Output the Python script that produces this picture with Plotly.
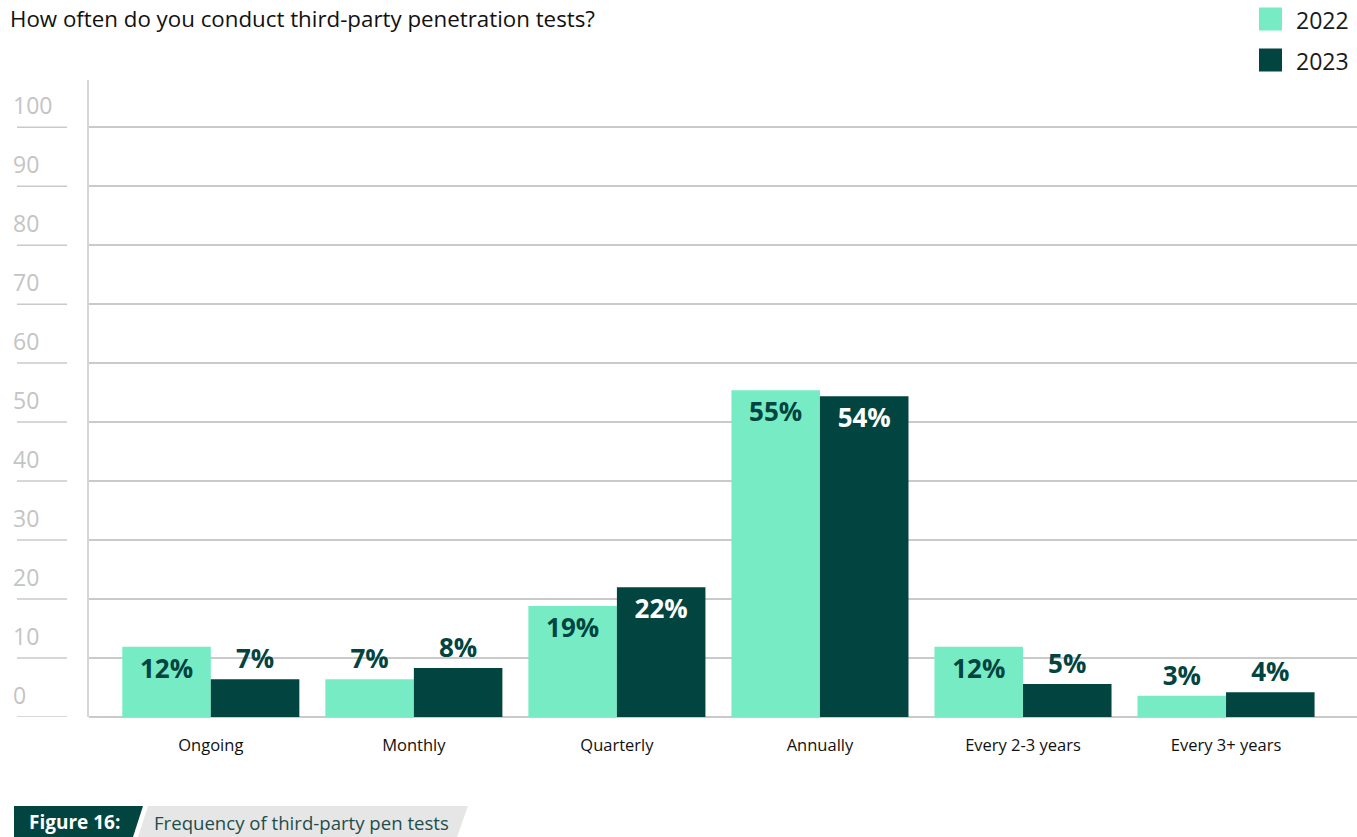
import plotly.graph_objects as go

# ---------------- data ----------------
categories = ["Ongoing", "Monthly", "Quarterly", "Annually", "Every 2-3 years", "Every 3+ years"]
values_2022 = [11.9, 6.4, 18.8, 55.4, 11.9, 3.6]
values_2023 = [6.4, 8.3, 22.0, 54.4, 5.6, 4.2]
labels_2022 = ["12%", "7%", "19%", "55%", "12%", "3%"]
labels_2023 = ["7%", "8%", "22%", "54%", "5%", "4%"]
series_names = ["2022", "2023"]
y_ticks = [0, 10, 20, 30, 40, 50, 60, 70, 80, 90, 100]

title_text = "How often do you conduct third-party penetration tests?"
fig_label = "Figure 16:"
fig_caption = "Frequency of third-party pen tests"

# ---------------- style ----------------
LIGHT = "#77ECC4"
DARK = "#02443F"
GRID = "#CACACA"
TICKGRAY = "#C4C4C4"
FONT = "Open Sans"

W, H = 1357, 837
ML, MR, MT, MB = 89, 0, 80, 120
PW, PH = W - ML - MR, H - MT - MB


def px(x):
    return (x - ML) / PW


def py(y):
    return (H - MB - y) / PH


INSIDE_MIN = 10


def positions(vals):
    return ["inside" if v >= INSIDE_MIN else "outside" for v in vals]


fig = go.Figure()
fig.add_trace(go.Bar(
    x=categories, y=values_2022, name=series_names[0],
    marker=dict(color=LIGHT, line=dict(width=0)),
    text=labels_2022, textposition=positions(values_2022),
    insidetextanchor="end",
    textfont=dict(family=FONT, size=26, color=DARK, weight="bold"),
    cliponaxis=False, showlegend=False, hoverinfo="skip",
))
fig.add_trace(go.Bar(
    x=categories, y=values_2023, name=series_names[1],
    marker=dict(color=DARK, line=dict(width=0)),
    text=labels_2023, textposition=positions(values_2023),
    insidetextanchor="end",
    textfont=dict(family=FONT, size=26, weight="bold",
                  color=["#FFFFFF" if v >= INSIDE_MIN else DARK for v in values_2023]),
    cliponaxis=False, showlegend=False, hoverinfo="skip",
))

shapes = []
annotations = []

# y tick labels above short tick lines
for v in y_ticks:
    annotations.append(dict(
        xref="paper", yref="y", x=px(11), y=v, xanchor="left", yanchor="middle",
        yshift=22, text=str(v), showarrow=False,
        font=dict(family=FONT, size=23, color=TICKGRAY),
    ))
    shapes.append(dict(
        type="line", xref="paper", yref="y", x0=px(17), x1=px(67), y0=v, y1=v,
        line=dict(color=GRID, width=1.5), layer="below",
    ))

# title
annotations.append(dict(
    xref="paper", yref="paper", x=px(8), y=py(18), xanchor="left", yanchor="middle",
    text=title_text, showarrow=False, font=dict(family=FONT, size=22.3, color="#111111"),
))

# custom legend
for i, (name, col) in enumerate(zip(series_names, [LIGHT, DARK])):
    yc = 19 + i * 41
    shapes.append(dict(
        type="rect", xref="paper", yref="paper",
        x0=px(1259), x1=px(1282), y0=py(yc - 11.5), y1=py(yc + 11.5),
        fillcolor=col, line=dict(width=0),
    ))
    annotations.append(dict(
        xref="paper", yref="paper", x=px(1294), y=py(yc + 1), xanchor="left", yanchor="middle",
        text=name, showarrow=False, font=dict(family=FONT, size=23, color="#1A1A1A"),
    ))

# caption boxes
shapes.append(dict(
    type="path", xref="paper", yref="paper",
    path=f"M {px(14)},{py(806)} L {px(143)},{py(806)} L {px(133)},{py(837)} L {px(14)},{py(837)} Z",
    fillcolor=DARK, line=dict(width=0),
))
shapes.append(dict(
    type="path", xref="paper", yref="paper",
    path=f"M {px(148)},{py(806)} L {px(468)},{py(806)} L {px(457)},{py(837)} L {px(138)},{py(837)} Z",
    fillcolor="#E6E6E6", line=dict(width=0),
))
annotations.append(dict(
    xref="paper", yref="paper", x=px(74), y=py(822), xanchor="center", yanchor="middle",
    text=f"<b>{fig_label}</b>", showarrow=False, font=dict(family=FONT, size=19, color="#FFFFFF"),
))
annotations.append(dict(
    xref="paper", yref="paper", x=px(152), y=py(822), xanchor="left", yanchor="middle",
    text=fig_caption, showarrow=False, font=dict(family=FONT, size=18.6, color="#1E4E4A"),
))

fig.update_layout(
    width=W, height=H,
    margin=dict(l=ML, r=MR, t=MT, b=MB, pad=0),
    paper_bgcolor="white", plot_bgcolor="white",
    barmode="group", bargap=0.128, bargroupgap=0,
    font=dict(family=FONT),
    showlegend=False,
    shapes=shapes, annotations=annotations,
    xaxis=dict(
        type="category", range=[-0.6, 5.645], showgrid=False, zeroline=False,
        showline=False, ticks="", ticklabelstandoff=16,
        tickfont=dict(family=FONT, size=16.5, color="#111111"),
        fixedrange=True,
    ),
    yaxis=dict(
        range=[0, 108], tickvals=y_ticks, showticklabels=False, ticks="",
        showgrid=True, gridcolor=GRID, gridwidth=1.5,
        zeroline=True, zerolinecolor=GRID, zerolinewidth=1.5,
        showline=True, linecolor="#D6D6D6", linewidth=1.5,
        fixedrange=True,
    ),
)

fig.write_html(
    "out.html",
    config={"displayModeBar": False},
    post_script="document.body.style.margin='0';document.body.style.overflow='hidden';",
)
